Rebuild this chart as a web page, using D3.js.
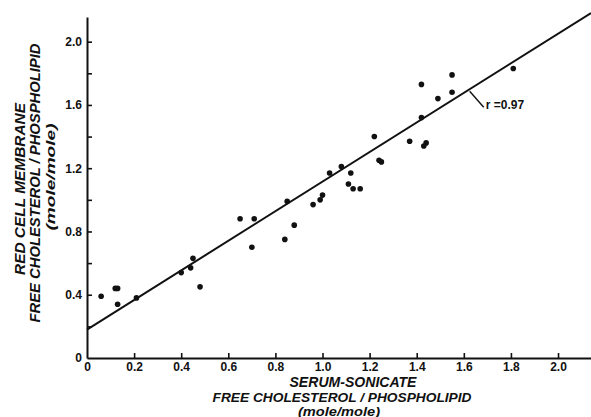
<!DOCTYPE html>
<html>
<head>
<meta charset="utf-8">
<script src="https://cdn.jsdelivr.net/npm/d3@7"></script>
<style>
  body { margin: 0; background: #fff; }
  svg { display: block; }
  text { font-family: "Liberation Sans", Arial, sans-serif; fill: #111; }
</style>
</head>
<body>
<svg id="chart"></svg>
<script>
// serum-sonicate ratio (x) vs red cell membrane ratio (y)
const serumRatio = [0.06, 0.12, 0.13, 0.13, 0.21, 0.40, 0.44, 0.45, 0.48, 0.65,
    0.71, 0.70, 0.84, 0.88, 0.85, 0.96, 0.99, 1.00, 1.03, 1.08,
    1.12, 1.11, 1.13, 1.16, 1.24, 1.25, 1.22, 1.37, 1.43, 1.44,
    1.42, 1.42, 1.49, 1.55, 1.55, 1.81];
const membraneRatio = [0.39, 0.44, 0.44, 0.34, 0.38, 0.54, 0.57, 0.63, 0.45, 0.88,
    0.88, 0.70, 0.75, 0.84, 0.99, 0.97, 1.00, 1.03, 1.17, 1.21,
    1.17, 1.10, 1.07, 1.07, 1.25, 1.24, 1.40, 1.37, 1.34, 1.36,
    1.52, 1.73, 1.64, 1.68, 1.79, 1.83];

// regression line: intercept, slope
const fit = [0.18, 0.935];
const rText = "r =0.97";
const rAt = 1.625;

const xTicks = [0, 0.2, 0.4, 0.6, 0.8, 1.0, 1.2, 1.4, 1.6, 1.8, 2.0];
const xTickLabels = ["0", "0.2", "0.4", "0.6", "0.8", "1.0", "1.2", "1.4", "1.6", "1.8", "2.0"];
const yTicks = [0, 0.2, 0.4, 0.6, 0.8, 1.0, 1.2, 1.4, 1.6, 1.8, 2.0];
const yTickLabels = ["0", "", "0.4", "", "0.8", "", "1.2", "", "1.6", "", "2.0"];

const xTitle = ["SERUM-SONICATE", "FREE CHOLESTEROL / PHOSPHOLIPID", "(mole/mole)"];
const yTitle = ["RED CELL MEMBRANE", "FREE CHOLESTEROL / PHOSPHOLIPID", "(mole/mole)"];

const width = 591;
const height = 417;

const svg = d3.select('#chart')
    .attr('width', width)
    .attr('height', height);

const x = d3.scaleLinear().domain([0, 2.14]).range([87, 591]);
const y = d3.scaleLinear().domain([0, 2.156]).range([358, 17]);

// x axis, ticks pointing up into the plot
const xAxis = svg.append('g')
    .attr('transform', 'translate(0,' + y(0) + ')')
    .call(d3.axisBottom(x)
        .tickValues(xTicks)
        .tickFormat((d, i) => xTickLabels[i])
        .tickSizeInner(-5)
        .tickSizeOuter(0)
        .tickPadding(4));

// y axis, ticks pointing right
const yAxis = svg.append('g')
    .attr('transform', 'translate(' + x(0) + ',0)')
    .call(d3.axisLeft(y)
        .tickValues(yTicks)
        .tickFormat((d, i) => yTickLabels[i])
        .tickSizeInner(-5)
        .tickSizeOuter(0)
        .tickPadding(5));

[xAxis, yAxis].forEach(function (g) {
    g.select('.domain').attr('stroke', '#111').attr('stroke-width', 2);
    g.selectAll('.tick line').attr('stroke', '#111').attr('stroke-width', 1.6);
    g.selectAll('.tick text')
        .style('font-family', '"Liberation Sans", Arial, sans-serif')
        .style('font-size', '12px')
        .style('font-weight', 'bold')
        .attr('fill', '#111');
});
xAxis.selectAll('.tick').filter(d => d === 0).select('line').remove();
yAxis.selectAll('.tick').filter(d => d === 0).select('line').remove();

// regression line
const xEnd = x.domain()[1];
svg.append('line')
    .attr('x1', x(0)).attr('y1', y(fit[0]))
    .attr('x2', x(xEnd)).attr('y2', y(fit[0] + fit[1] * xEnd))
    .attr('stroke', '#111')
    .attr('stroke-width', 2);

// r label with its leader
const ax = x(rAt), ay = y(fit[0] + fit[1] * rAt);
svg.append('line')
    .attr('x1', ax).attr('y1', ay + 2)
    .attr('x2', ax + 14).attr('y2', ay + 18)
    .attr('stroke', '#111')
    .attr('stroke-width', 1.4);
svg.append('text')
    .attr('x', ax + 16)
    .attr('y', ay + 20)
    .style('font-size', '12px')
    .style('font-weight', 'bold')
    .text(rText);

// points
svg.append('g')
    .selectAll('circle')
    .data(serumRatio)
    .join('circle')
    .attr('cx', d => x(d))
    .attr('cy', (d, i) => y(membraneRatio[i]))
    .attr('r', 2.8)
    .attr('fill', '#111');

// x axis title
const xTitleSpec = [
    { cx: 353, y: 387, len: 127, size: 14 },
    { cx: 342, y: 401.5, len: 259, size: 13 },
    { cx: 339, y: 415.5, len: 82, size: 12 }
];
svg.append('g')
    .selectAll('text')
    .data(xTitle)
    .join('text')
    .attr('x', (d, i) => xTitleSpec[i].cx)
    .attr('y', (d, i) => xTitleSpec[i].y)
    .attr('text-anchor', 'middle')
    .attr('textLength', (d, i) => xTitleSpec[i].len)
    .attr('lengthAdjust', 'spacingAndGlyphs')
    .style('font-size', (d, i) => xTitleSpec[i].size + 'px')
    .style('font-weight', 'bold')
    .style('font-style', 'italic')
    .text(d => d);

// y axis title, rotated
const yTitleSpec = [
    { cy: 189, x: 25, len: 172, size: 15 },
    { cy: 183, x: 40, len: 279, size: 15 },
    { cy: 177, x: 55, len: 107, size: 13 }
];
svg.append('g')
    .selectAll('text')
    .data(yTitle)
    .join('text')
    .attr('transform', (d, i) => 'translate(' + yTitleSpec[i].x + ',' + yTitleSpec[i].cy + ') rotate(-90)')
    .attr('text-anchor', 'middle')
    .attr('textLength', (d, i) => yTitleSpec[i].len)
    .attr('lengthAdjust', 'spacingAndGlyphs')
    .style('font-size', (d, i) => yTitleSpec[i].size + 'px')
    .style('font-weight', 'bold')
    .style('font-style', 'italic')
    .text(d => d);
</script>
</body>
</html>
